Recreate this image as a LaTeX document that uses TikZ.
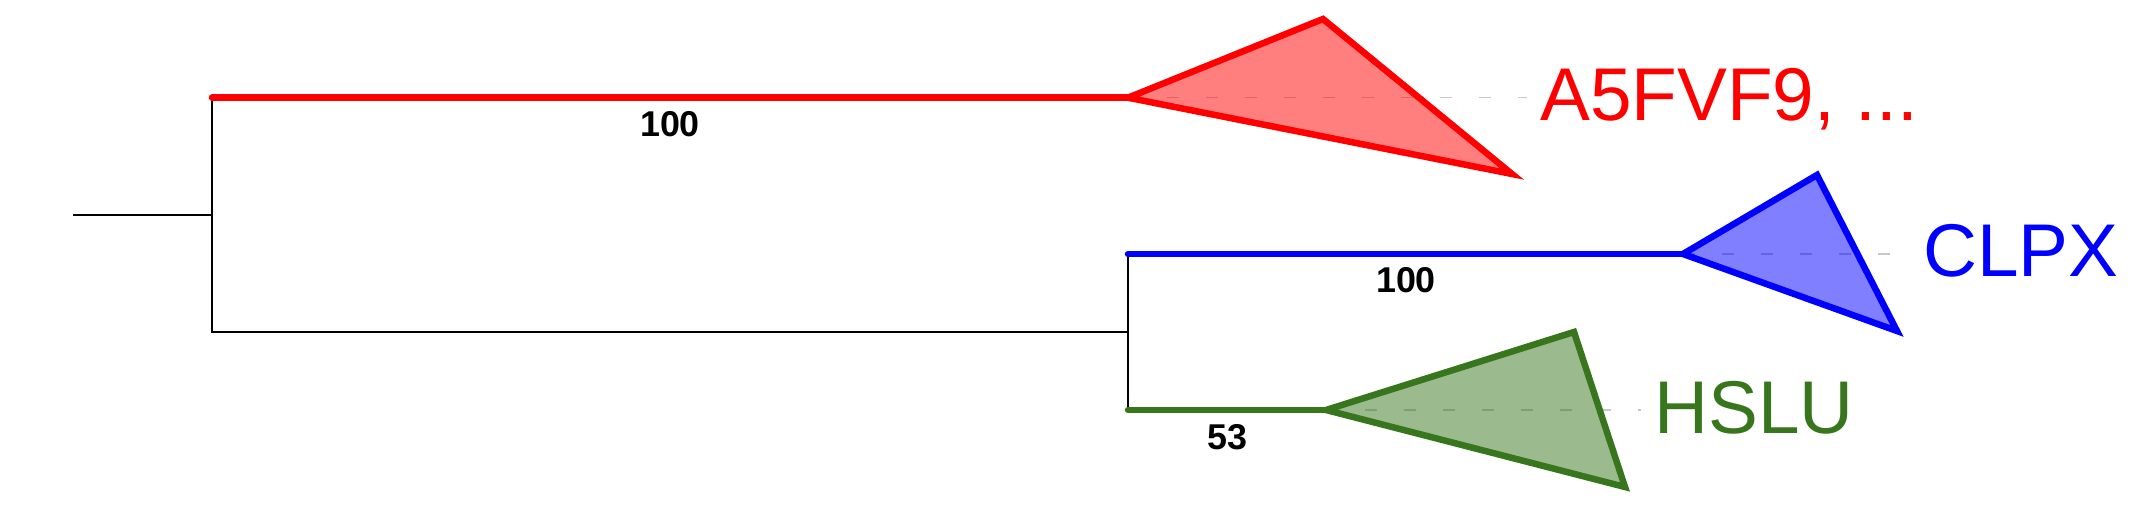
\documentclass[tikz,border=0pt]{standalone}
\usepackage{fontspec}
\setmainfont{Liberation Sans}
\definecolor{cred}{HTML}{FF0000}
\definecolor{cblue}{HTML}{0000FF}
\definecolor{cgreen}{HTML}{38761D}
\definecolor{dashgray}{HTML}{C8C8C8}
\begin{document}
\begin{tikzpicture}[x=1bp,y=-1bp,
  tree/.style={black,line width=2.5bp},
  branch/.style={line width=6.5bp,line cap=round},
  clade/.style={line width=6.5bp,line join=miter,fill opacity=0.5},
  guide/.style={dashgray,line width=1.3bp,dash pattern=on 12bp off 27bp},
  leaf/.style={anchor=base west,inner sep=0pt,font=\fontsize{75}{80}\selectfont},
  support/.style={anchor=base,inner sep=0pt,font=\fontsize{36}{40}\selectfont\bfseries}]
\useasboundingbox (0,0) rectangle (2141,509);
% tree skeleton
\coordinate (rootstart) at (73,215);
\coordinate (n0) at (212,215);
\coordinate (n0top) at (212,97.7);
\coordinate (n0bot) at (212,332);
\coordinate (n1) at (1128,332);
\coordinate (n1top) at (1128,254);
\coordinate (n1bot) at (1128,410);
% clade apices and vertices
\coordinate (redapex) at (1128,97.7);
\coordinate (redtop) at (1323,19);
\coordinate (redbot) at (1512,174);
\coordinate (redend) at (1527,97.7);
\coordinate (blueapex) at (1683,254);
\coordinate (bluetop) at (1817,175);
\coordinate (bluebot) at (1897,331);
\coordinate (blueend) at (1912,254);
\coordinate (greenapex) at (1326,410);
\coordinate (greentop) at (1574,332);
\coordinate (greenbot) at (1625,487);
\coordinate (greenend) at (1641,410);

\draw[tree] (rootstart) -- (n0);
\draw[tree] (n0top) -- (n0bot) -- (n1);
\draw[tree] (n1top) -- (n1bot);

\draw[guide] (redapex) -- (redend);
\draw[guide] (blueapex) -- (blueend);
\draw[guide] (greenapex) -- (greenend);

\draw[branch,cred] (n0top) -- (redapex);
\draw[branch,cblue] (n1top) -- (blueapex);
\draw[branch,cgreen] (n1bot) -- (greenapex);

\filldraw[clade,draw=cred,fill=cred] (redapex) -- (redtop) -- (redbot) -- cycle;
\filldraw[clade,draw=cblue,fill=cblue] (blueapex) -- (bluetop) -- (bluebot) -- cycle;
\filldraw[clade,draw=cgreen,fill=cgreen] (greenapex) -- (greentop) -- (greenbot) -- cycle;

\node[leaf,text=cred] (redlab) at (1540,121) {A5FVF9, ...};
\node[leaf,text=cblue] (bluelab) at (1923,277) {CLPX};
\node[leaf,text=cgreen] (greenlab) at (1654,433) {HSLU};

\node[support] (s1) at (670,137) {100};
\node[support] (s2) at (1406,293) {100};
\node[support] (s3) at (1227,449) {53};
\end{tikzpicture}
\end{document}
